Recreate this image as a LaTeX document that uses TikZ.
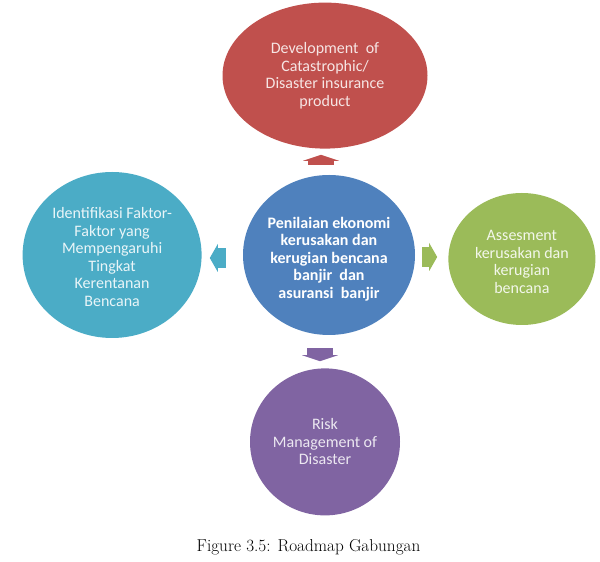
\documentclass[tikz,border=0pt]{standalone}
\usepackage{fontspec}
\newfontfamily\carlito{Carlito}
\usetikzlibrary{shapes.geometric, arrows.meta, positioning}
\definecolor{dred}{HTML}{C0504D}
\definecolor{dblue}{HTML}{4F81BD}
\definecolor{dteal}{HTML}{4BACC6}
\definecolor{dgreen}{HTML}{9BBB59}
\definecolor{dpurple}{HTML}{8064A2}

\begin{document}
\begin{tikzpicture}[
    x=1pt, y=1pt,
    bubble/.style = {ellipse, draw=none, inner sep=0pt},
    bubtext/.style = {align=center, inner sep=0pt, font=\carlito\fontsize{16}{17.5}\selectfont},
    boldtext/.style = {bubtext, font=\carlito\bfseries\fontsize{16}{17.5}\selectfont},
    vblock/.style = {line width=26pt, -{Triangle[width=36pt, length=6pt, line width=0pt]}},
    hblock/.style = {line width=20pt, -{Triangle[width=28pt, length=8pt, line width=0pt]}}]

    \useasboundingbox (0,0) rectangle (600,562);

    \node[bubble, fill=dblue, minimum width=172pt, minimum height=160pt,
        label={[boldtext, text=white, yshift=-4pt]center:{Penilaian ekonomi\\kerusakan dan\\kerugian bencana\\banjir~ dan\\asuransi~ banjir}}] (ctr) at (329,307) {};
    \node[bubble, fill=dred, minimum width=205pt, minimum height=146pt, above=26pt of ctr, xshift=-4pt,
        label={[bubtext, text=white!85!dred]center:{Development~ of\\Catastrophic/\\Disaster insurance\\product}}] (dev) {};
    \node[bubble, fill=dteal, minimum width=179pt, minimum height=166pt, left=41pt of ctr,
        label={[bubtext, text=white!88!dteal, yshift=-2pt]center:{Identifikasi Faktor-\\Faktor yang\\Mempengaruhi\\Tingkat\\Kerentanan\\Bencana}}] (ident) {};
    \node[bubble, fill=dgreen, minimum width=147pt, minimum height=132pt, right=33pt of ctr, yshift=-4pt,
        label={[bubtext, text=white!88!dgreen, yshift=-3pt]center:{Assesment\\kerusakan dan\\kerugian\\bencana}}] (asses) {};
    \node[bubble, fill=dpurple, minimum width=150pt, minimum height=147pt, below=33pt of ctr, xshift=-4pt,
        label={[bubtext, text=white!85!dpurple]center:{Risk\\Management of\\Disaster}}] (risk) {};

    \draw[vblock, dred] ([xshift=-8pt, yshift=10pt]ctr.north) -- ([xshift=-4pt, yshift=-6pt]dev.south);
    \draw[vblock, dpurple] ([xshift=-9pt, yshift=-13pt]ctr.south) -- ([xshift=-5pt, yshift=7pt]risk.north);
    \draw[hblock, dteal] ([xshift=-17pt, yshift=-3pt]ctr.west) -- ([xshift=8pt, yshift=-3pt]ident.east);
    \draw[hblock, dgreen] ([xshift=7pt, yshift=-2pt]ctr.east) -- ([xshift=-11pt, yshift=2pt]asses.west);

    \node[anchor=base, font=\fontsize{17.2}{20}\selectfont] (cap) at (308.5,10) {Figure 3.5: Roadmap Gabungan};
\end{tikzpicture}
\end{document}
